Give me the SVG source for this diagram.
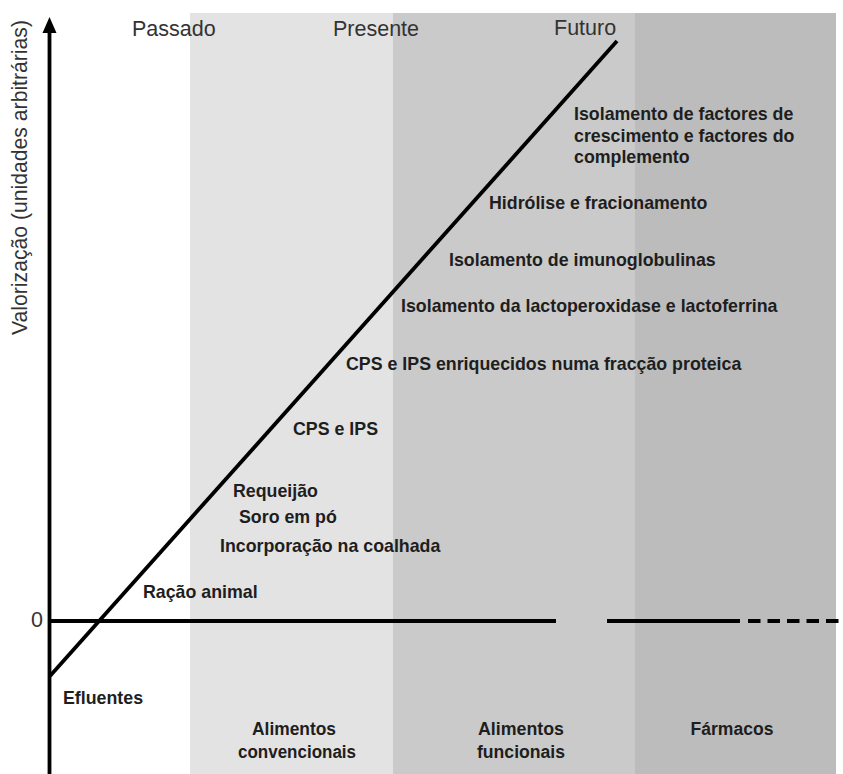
<svg xmlns="http://www.w3.org/2000/svg" width="843" height="774" viewBox="0 0 843 774">
<style>
.lbl{font-family:"Liberation Sans",Arial,sans-serif;font-weight:bold;font-size:17.8px;fill:#1e1e1e}
.era{font-family:"Liberation Sans",Arial,sans-serif;font-size:21.5px;fill:#333}
.cat{font-family:"Liberation Sans",Arial,sans-serif;font-weight:bold;font-size:18px;fill:#1e1e1e;text-anchor:middle}
.ax{stroke:#000;stroke-width:3.8;fill:none}
</style>
<rect width="843" height="774" fill="#fff"/>
<g id="bands">
<rect x="190" y="13" width="203" height="761" fill="#e3e3e3"/>
<rect x="393" y="13" width="242" height="761" fill="#cacaca"/>
<rect x="635" y="13" width="201" height="761" fill="#bcbcbc"/>
</g>
<g id="connectors">
<line class="ax" x1="49.5" y1="774" x2="49.5" y2="30"/>
<polygon points="49.5,17 42.5,33 56.5,33" fill="#000"/>
<line class="ax" x1="48" y1="621" x2="556" y2="621"/>
<line class="ax" x1="607" y1="621" x2="740" y2="621"/>
<line class="ax" x1="748" y1="621" x2="839" y2="621" stroke-dasharray="12.5 7"/>
<line class="ax" x1="50" y1="676" x2="617" y2="41"/>
</g>
<g id="y-axis-label"><text class="era" font-size="19" transform="translate(27,177.5) rotate(-90)" text-anchor="middle" textLength="315" lengthAdjust="spacingAndGlyphs">Valorização (unidades arbitrárias)</text></g>
<g id="zero"><text class="era" x="31" y="627" font-size="19" fill="#444">0</text></g>
<g id="passado"><text class="era" x="132" y="36">Passado</text></g>
<g id="presente"><text class="era" x="333" y="36">Presente</text></g>
<g id="futuro"><text class="era" x="554" y="35">Futuro</text></g>
<g id="n-factores"><text class="lbl" x="574" y="120">Isolamento de factores de</text><text class="lbl" x="574" y="141.5">crescimento e factores do</text><text class="lbl" x="574" y="163">complemento</text></g>
<g id="n-hidrolise"><text class="lbl" x="489" y="209">Hidrólise e fracionamento</text></g>
<g id="n-imunoglobulinas"><text class="lbl" x="449" y="266">Isolamento de imunoglobulinas</text></g>
<g id="n-lactoperoxidase"><text class="lbl" x="401" y="312">Isolamento da lactoperoxidase e lactoferrina</text></g>
<g id="n-cps-enriquecidos"><text class="lbl" x="346" y="370">CPS e IPS enriquecidos numa fracção proteica</text></g>
<g id="n-cps"><text class="lbl" x="293" y="435">CPS e IPS</text></g>
<g id="n-requeijao"><text class="lbl" x="233" y="497">Requeijão</text></g>
<g id="n-soro"><text class="lbl" x="239" y="523">Soro em pó</text></g>
<g id="n-coalhada"><text class="lbl" x="220" y="552">Incorporação na coalhada</text></g>
<g id="n-racao"><text class="lbl" x="143" y="598">Ração animal</text></g>
<g id="n-efluentes"><text class="lbl" x="63" y="704">Efluentes</text></g>
<g id="c-convencionais"><text class="cat" x="294" y="735" textLength="84" lengthAdjust="spacingAndGlyphs">Alimentos</text><text class="cat" x="297" y="758" textLength="118" lengthAdjust="spacingAndGlyphs">convencionais</text></g>
<g id="c-funcionais"><text class="cat" x="521" y="735" textLength="86" lengthAdjust="spacingAndGlyphs">Alimentos</text><text class="cat" x="521" y="758" textLength="88" lengthAdjust="spacingAndGlyphs">funcionais</text></g>
<g id="c-farmacos"><text class="cat" x="732" y="735" textLength="83" lengthAdjust="spacingAndGlyphs">Fármacos</text></g>
</svg>
